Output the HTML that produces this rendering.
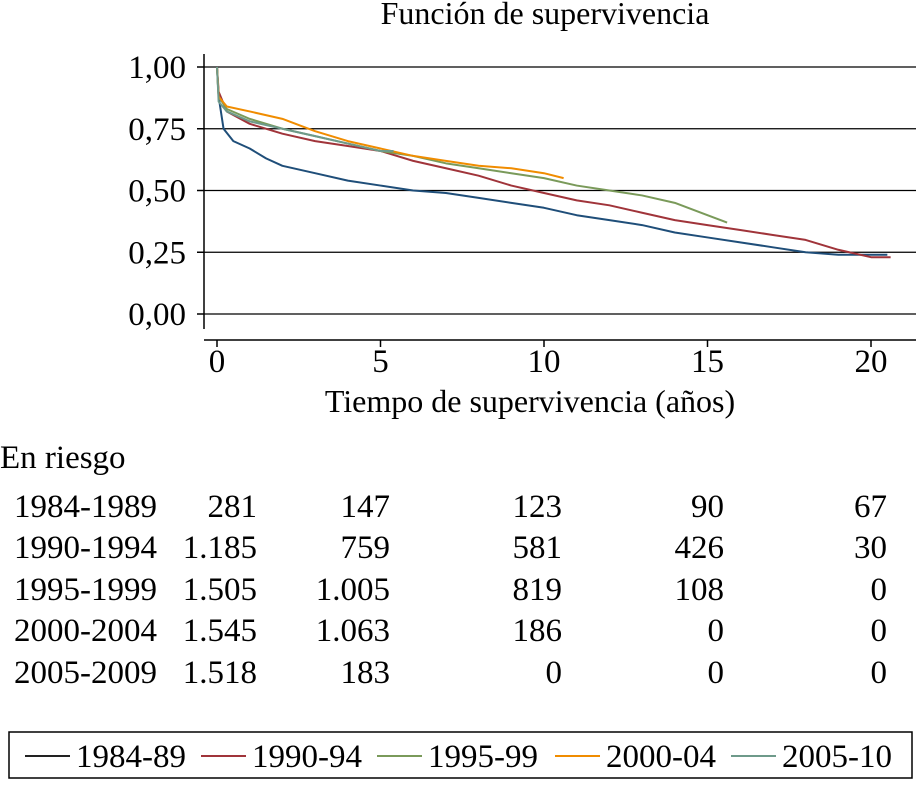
<!DOCTYPE html>
<html><head><meta charset="utf-8"><style>
body{margin:0;background:#fff;width:916px;height:782px;overflow:hidden;font-family:"Liberation Serif",serif;}
svg text{font-family:"Liberation Serif",serif;fill:#000;}
</style></head><body>
<svg id="c" width="916" height="782">
<text x="545" y="24" font-size="32" text-anchor="middle">Función de supervivencia</text>
<g id="grid"></g><g id="curves"></g><g id="axes"></g>
<text x="530" y="412" font-size="32" text-anchor="middle">Tiempo de supervivencia (años)</text>
<text x="0" y="468" font-size="33">En riesgo</text>
<g id="table"></g>
<rect x="9" y="732" width="903" height="46" fill="none" stroke="#000" stroke-width="1.5"/>
<g id="legend"></g>
</svg>
<script>
const years=[0,5,10,15,20];
const yTicks=[0,0.25,0.5,0.75,1];
const yLabels=["0,00","0,25","0,50","0,75","1,00"];
const seriesNames=["1984-89","1990-94","1995-99","2000-04","2005-10"];
const colors=["#1f4e79","#a0343a","#7a9a5a","#f08c00","#6e9a8a"];
const t1=[0,0.05,0.2,0.5,1,1.5,2,3,4,5,6,7,8,9,10,11,12,13,14,15,16,17,18,19,20.5];
const s1=[1,0.88,0.75,0.70,0.67,0.63,0.60,0.57,0.54,0.52,0.50,0.49,0.47,0.45,0.43,0.40,0.38,0.36,0.33,0.31,0.29,0.27,0.25,0.24,0.24];
const t2=[0,0.05,0.3,1,2,3,4,5,6,7,8,9,10,11,12,13,14,15,16,17,18,19,20,20.6];
const s2=[1,0.90,0.82,0.77,0.73,0.70,0.68,0.66,0.62,0.59,0.56,0.52,0.49,0.46,0.44,0.41,0.38,0.36,0.34,0.32,0.30,0.26,0.23,0.23];
const t3=[0,0.05,0.3,1,2,3,4,5,6,7,8,9,10,11,12,13,14,15,15.6];
const s3=[1,0.88,0.83,0.79,0.75,0.72,0.69,0.66,0.64,0.61,0.59,0.57,0.55,0.52,0.50,0.48,0.45,0.40,0.37];
const t4=[0,0.05,0.3,1,2,3,4,5,6,7,8,9,10,10.6];
const s4=[1,0.88,0.84,0.82,0.79,0.74,0.70,0.67,0.64,0.62,0.60,0.59,0.57,0.55];
const t5=[0,0.05,0.3,1,2,3,4,5,5.4];
const s5=[1,0.86,0.82,0.78,0.75,0.72,0.69,0.66,0.66];
const rowLabels=["1984-1989","1990-1994","1995-1999","2000-2004","2005-2009"];
const atRisk=[["281","147","123","90","67"],["1.185","759","581","426","30"],["1.505","1.005","819","108","0"],["1.545","1.063","186","0","0"],["1.518","183","0","0","0"]];
const NS="http://www.w3.org/2000/svg";
const X=t=>217+t*32.7, Y=v=>314-v*247;
function mk(tag,a,p){const e=document.createElementNS(NS,tag);for(const k in a)e.setAttribute(k,a[k]);p.appendChild(e);return e;}
const g=document.getElementById('grid'),ax=document.getElementById('axes');
yTicks.forEach((v,i)=>{
 const l=mk('line',{x1:204,x2:916,y1:Y(v),y2:Y(v),stroke:'#000','stroke-width':1.2},g);
 
 
 mk('line',{x1:197,x2:204,y1:Y(v),y2:Y(v),stroke:'#000','stroke-width':1.5},ax);
 const t=mk('text',{x:186,y:Y(v)+11,'font-size':33,'text-anchor':'end'},ax);t.textContent=yLabels[i];
 
 
});
const ya=mk('line',{x1:204,x2:204,y1:54,y2:329,stroke:'#000','stroke-width':1.5},ax);


const xa=mk('line',{x1:204,x2:916,y1:340,y2:340,stroke:'#000','stroke-width':1.5},ax);


years.forEach(v=>{
 mk('line',{x1:X(v),x2:X(v),y1:340,y2:347,stroke:'#000','stroke-width':1.5},ax);
 const t=mk('text',{x:X(v),y:372,'font-size':33,'text-anchor':'middle'},ax);t.textContent=v;
 
 
});
const cv=document.getElementById('curves');
[[t1,s1],[t2,s2],[t3,s3],[t4,s4],[t5,s5]].forEach((d,i)=>{
 let p='M'+X(d[0][0])+','+Y(d[1][0]);
 for(let k=1;k<d[0].length;k++){p+=' L'+X(d[0][k])+','+Y(d[1][k]);}
 const e=mk('path',{d:p,fill:'none',stroke:colors[i],'stroke-width':2,'stroke-linejoin':'round'},cv);
 
 
});
const tb=document.getElementById('table');
const colX=[257,390,562,724,887],rowY=[517,558,600,641,683];
rowLabels.forEach((r,i)=>{
 const t=mk('text',{x:14,y:rowY[i],'font-size':33},tb);t.textContent=r;
 
 
 atRisk[i].forEach((v,j)=>{
  const c=mk('text',{x:colX[j],y:rowY[i],'font-size':33,'text-anchor':'end'},tb);c.textContent=v;
  
  
 });
});
const lg=document.getElementById('legend');
const lx=[25,201,377,555,731];
seriesNames.forEach((n,i)=>{
 mk('line',{x1:lx[i],x2:lx[i]+45,y1:756,y2:756,stroke:i==0?'#222':colors[i],'stroke-width':2},lg);
 const t=mk('text',{x:lx[i]+51,y:767,'font-size':33},lg);t.textContent=n;
 
 
});
</script>
</body></html>
